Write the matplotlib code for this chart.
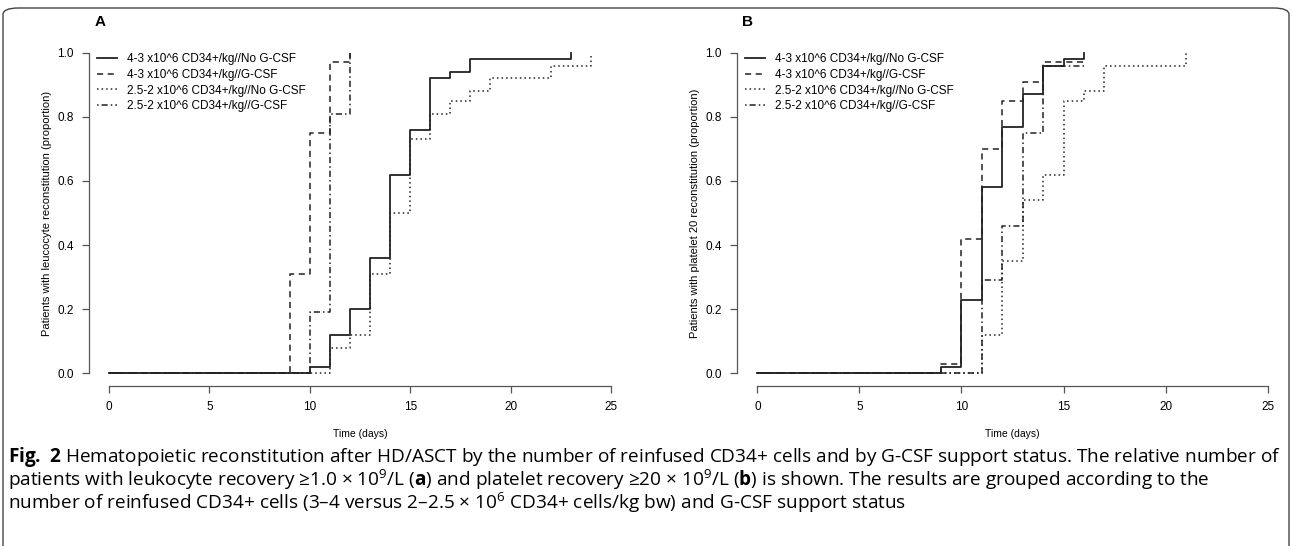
## Kaplan-Meier style reconstitution curves, panels A and B plus caption
import matplotlib
matplotlib.use('Agg')
import matplotlib.pyplot as mplt
from matplotlib.patches import FancyBboxPatch

## -------------------------------------------------------------------------- ##
legend_labels = ['4-3 x10^6 CD34+/kg//No G-CSF',
                 '4-3 x10^6 CD34+/kg//G-CSF',
                 '2.5-2 x10^6 CD34+/kg//No G-CSF',
                 '2.5-2 x10^6 CD34+/kg//G-CSF']

# panel A: leucocyte reconstitution
a_solid_days = [0, 10, 11, 12, 13, 14, 15, 16, 17, 18, 23]
a_solid_prop = [0, 0.02, 0.12, 0.20, 0.36, 0.62, 0.76, 0.92, 0.94, 0.98, 1.0]
a_dashed_days = [0, 9, 10, 11, 12]
a_dashed_prop = [0, 0.31, 0.75, 0.97, 1.0]
a_dotted_days = [0, 11, 12, 13, 14, 15, 16, 17, 18, 19, 22, 24]
a_dotted_prop = [0, 0.08, 0.12, 0.31, 0.50, 0.73, 0.81, 0.85, 0.88, 0.92, 0.96, 1.0]
a_dashdot_days = [0, 10, 11, 12]
a_dashdot_prop = [0, 0.19, 0.81, 1.0]

# panel B: platelet reconstitution
b_solid_days = [0, 9, 10, 11, 12, 13, 14, 15, 16]
b_solid_prop = [0, 0.02, 0.23, 0.58, 0.77, 0.87, 0.96, 0.98, 1.0]
b_dashed_days = [0, 9, 10, 11, 12, 13, 14, 16]
b_dashed_prop = [0, 0.03, 0.42, 0.70, 0.85, 0.91, 0.97, 0.97]
b_dotted_days = [0, 11, 12, 13, 14, 15, 16, 17, 21]
b_dotted_prop = [0, 0.12, 0.35, 0.54, 0.62, 0.85, 0.88, 0.96, 1.0]
b_dashdot_days = [0, 11, 12, 13, 14, 16]
b_dashdot_prop = [0, 0.29, 0.46, 0.75, 0.96, 0.96]

x_ticks = [0, 5, 10, 15, 20, 25]
y_ticks = [0.0, 0.2, 0.4, 0.6, 0.8, 1.0]
## -------------------------------------------------------------------------- ##
mplt.rcParams['font.family'] = ['Liberation Sans', 'DejaVu Sans']
line_col = '#222222'
axis_col = '#555555'
styles = [(None, None), (0, (4, 3)), (0, (1, 2)), (0, (1, 2, 4, 2))]

fig = mplt.figure(figsize=(12.92, 5.46), dpi=100)
W, H = 1292.0, 546.0

def make_panel(rect, curves, ylabel):
  ax = fig.add_axes(rect)
  for (days, prop), ls, lab in zip(curves, styles, legend_labels):
    if ls[0] is None:
      ax.step(days, prop, where='post', color=line_col, lw=1.3, label=lab)
    else:
      ax.step(days, prop, where='post', color=line_col, lw=1.1,
              linestyle=ls, label=lab)
  ax.set_xlim(-1, 26)
  ax.set_ylim(-0.04, 1.04)
  ax.set_xticks(x_ticks)
  ax.set_yticks(y_ticks)
  ax.set_yticklabels(['%.1f' % v for v in y_ticks])
  for s in ['top', 'right']:
    ax.spines[s].set_visible(False)
  ax.spines['left'].set_bounds(0, 1)
  ax.spines['bottom'].set_bounds(0, 25)
  for s in ['left', 'bottom']:
    ax.spines[s].set_color(axis_col)
    ax.spines[s].set_linewidth(0.9)
  ax.tick_params(direction='out', length=5, width=0.9, color=axis_col,
                 labelsize=8.5, pad=6)
  ax.set_xlabel('Time (days)', fontsize=7.5, labelpad=11)
  ax.set_ylabel(ylabel, fontsize=8, labelpad=4)
  ax.legend(loc='upper left', bbox_to_anchor=(0.0, 0.985), frameon=False,
            fontsize=8.5, handlelength=1.65, handletextpad=0.85,
            labelspacing=0.3, borderaxespad=0.3)
  return ax

def rect_px(x0, x1, ytop, ybot):
  return [x0 / W, 1 - ybot / H, (x1 - x0) / W, (ybot - ytop) / H]

curves_a = [(a_solid_days, a_solid_prop), (a_dashed_days, a_dashed_prop),
            (a_dotted_days, a_dotted_prop), (a_dashdot_days, a_dashdot_prop)]
curves_b = [(b_solid_days, b_solid_prop), (b_dashed_days, b_dashed_prop),
            (b_dotted_days, b_dotted_prop), (b_dashdot_days, b_dashdot_prop)]

axA = make_panel(rect_px(89, 631, 40, 386), curves_a,
                 'Patients with leucocyte reconstitution (proportion)')
axB = make_panel(rect_px(737, 1288, 40, 386), curves_b,
                 'Patients with platelet 20 reconstitution (proportion)')

fig.text(95 / W, 1 - 22 / H, 'A', fontsize=11, fontweight='bold',
         va='center', ha='left')
fig.text(742 / W, 1 - 22 / H, 'B', fontsize=11, fontweight='bold',
         va='center', ha='left')
## -------------------------------------------------------------------------- ##
# caption
mplt.rcParams['mathtext.fontset'] = 'custom'
mplt.rcParams['mathtext.rm'] = 'Open Sans'
mplt.rcParams['mathtext.bf'] = 'Open Sans:bold'
cap_font = dict(fontsize=13.7, family=['Open Sans', 'DejaVu Sans'],
                va='center', ha='left')
fig.text(8 / W, 1 - 457 / H,
         r'$\mathbf{Fig.\;2}$ Hematopoietic reconstitution after HD/ASCT by the number '
         'of reinfused CD34+ cells and by G-CSF support status. The relative number of',
         **cap_font)
fig.text(8 / W, 1 - 480 / H,
         r'patients with leukocyte recovery ≥1.0 × 10$^{9}$/L ($\mathbf{a}$) and '
         r'platelet recovery ≥20 × 10$^{9}$/L ($\mathbf{b}$) is shown. The results '
         'are grouped according to the', **cap_font)
fig.text(8 / W, 1 - 503 / H,
         r'number of reinfused CD34+ cells (3–4 versus 2–2.5 × 10$^{6}$ CD34+ '
         'cells/kg bw) and G-CSF support status', **cap_font)

border = FancyBboxPatch((3 / W, -20 / H), 1286 / W, 558 / H,
                        boxstyle='round,pad=0,rounding_size=0.012',
                        transform=fig.transFigure, fill=False,
                        edgecolor='#444444', lw=1.0)
fig.patches.append(border)
## -------------------------------------------------------------------------- ##
mplt.savefig('out.png', dpi=100)
